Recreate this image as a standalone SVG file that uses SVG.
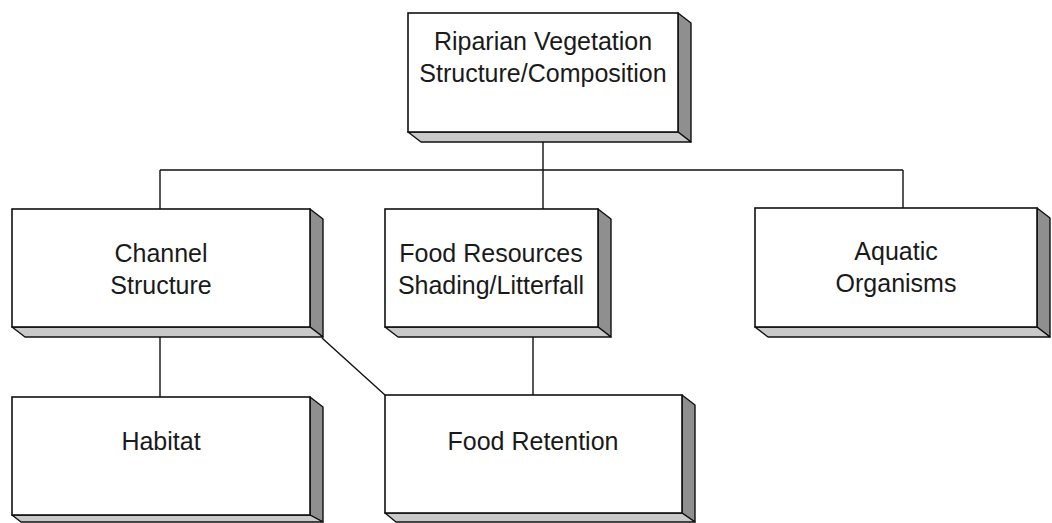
<svg xmlns="http://www.w3.org/2000/svg" width="1052" height="523" viewBox="0 0 1052 523">
<style>
.front{fill:#fff;stroke:#111;stroke-width:1.6}
.side{fill:#8f8f8f;stroke:#111;stroke-width:1.4;stroke-linejoin:round}
.bottom{fill:#c9c9c9;stroke:#111;stroke-width:1.4;stroke-linejoin:round}
.lbl{font-family:"Liberation Sans",Arial,sans-serif;font-size:25px;fill:#1a1a1a;text-anchor:middle}
.conn{fill:none;stroke:#111;stroke-width:1.4}
</style>
<g id="connectors">
<path class="conn" d="M543 142 V170 M160 170 H903 M160 170 V209 M543 170 V209 M903 170 V208"/>
<path class="conn" d="M160 337 V397 M533 337 V395 M322 338 L385 395"/>
</g>
<g id="n-riparian">
<polygon class="side" points="678,13 691,23 691,142 678,132"/>
<polygon class="bottom" points="408,132 421,142 691,142 678,132"/>
<rect class="front" x="408" y="13" width="270" height="119"/>
<text class="lbl" x="543" y="50">Riparian Vegetation</text>
<text class="lbl" x="543" y="82">Structure/Composition</text>
</g>
<g id="n-channel">
<polygon class="side" points="310,209 323,219 323,337 310,327"/>
<polygon class="bottom" points="12,327 25,337 323,337 310,327"/>
<rect class="front" x="12" y="209" width="298" height="118"/>
<text class="lbl" x="161" y="262">Channel</text>
<text class="lbl" x="161" y="294">Structure</text>
</g>
<g id="n-food-resources">
<polygon class="side" points="598,209 611,219 611,337 598,327"/>
<polygon class="bottom" points="385,327 398,337 611,337 598,327"/>
<rect class="front" x="385" y="209" width="213" height="118"/>
<text class="lbl" x="491" y="262">Food Resources</text>
<text class="lbl" x="491" y="294">Shading/Litterfall</text>
</g>
<g id="n-aquatic">
<polygon class="side" points="1037,208 1050,218 1050,337 1037,327"/>
<polygon class="bottom" points="755,327 768,337 1050,337 1037,327"/>
<rect class="front" x="755" y="208" width="282" height="119"/>
<text class="lbl" x="896" y="260">Aquatic</text>
<text class="lbl" x="896" y="292">Organisms</text>
</g>
<g id="n-habitat">
<polygon class="side" points="310,397 323,407 323,522 310,515"/>
<polygon class="bottom" points="12,515 21,522 323,522 310,515"/>
<rect class="front" x="12" y="397" width="298" height="118"/>
<text class="lbl" x="161" y="450">Habitat</text>
</g>
<g id="n-food-retention">
<polygon class="side" points="682,395 695,405 695,522 682,513"/>
<polygon class="bottom" points="385,513 396,522 695,522 682,513"/>
<rect class="front" x="385" y="395" width="297" height="118"/>
<text class="lbl" x="533" y="450">Food Retention</text>
</g>
</svg>
